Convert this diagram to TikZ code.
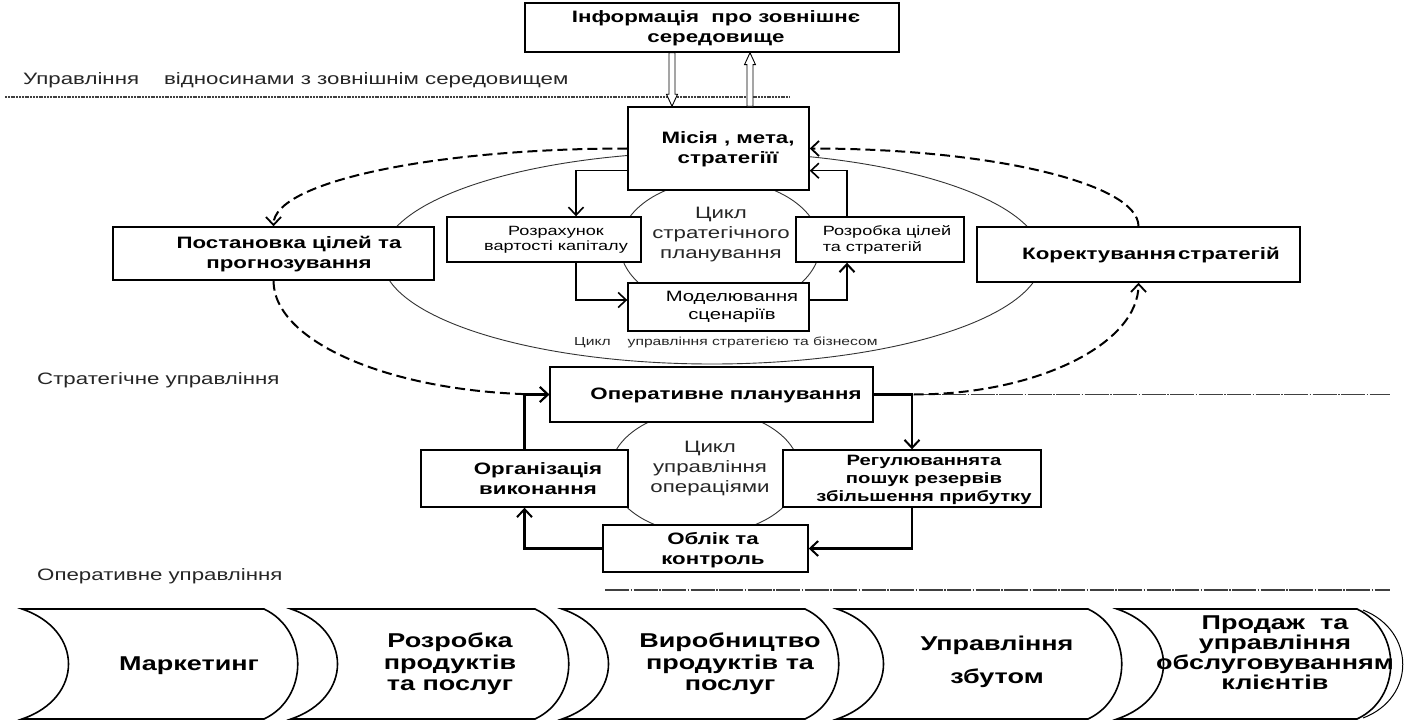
\documentclass[tikz,border=0pt]{standalone}
\usepackage{fontspec}
\setmainfont{Liberation Sans}[FakeStretch=1.35]
\usetikzlibrary{arrows.meta,calc}
\begin{document}
\begin{tikzpicture}[x=1pt,y=-1pt,
  box/.style={draw, line width=1.4pt, fill=white, inner sep=0pt},
  ell/.style={line width=0.9pt, draw=black!80},
  bt/.style={font=\fontsize{16.5}{20}\selectfont\bfseries, align=center, inner sep=0pt},
  rt/.style={font=\fontsize{15}{18}\selectfont\bfseries, align=center, inner sep=0pt},
  st/.style={font=\fontsize{13.4}{15.5}\selectfont, align=center, inner sep=0pt},
  mt/.style={font=\fontsize{15}{18}\selectfont, align=center, inner sep=0pt},
  ct/.style={font=\fontsize{16.5}{20}\selectfont, align=center, inner sep=0pt, text=black!85},
  lab/.style={font=\fontsize{16.5}{20}\selectfont, inner sep=0pt, anchor=west, text=black!85},
  sm/.style={font=\fontsize{11.6}{14}\selectfont, inner sep=0pt, anchor=west, text=black!85},
  cht/.style={font=\fontsize{20}{21.5}\selectfont\bfseries, align=center, inner sep=0pt},
  chtb/.style={font=\fontsize{20}{20}\selectfont\bfseries, align=center, inner sep=0pt},
  arr/.style={line width=1.2pt, -{Straight Barb[length=8pt, width=15pt, line width=1.6pt]}},
  arrthick/.style={line width=2.2pt, -{Straight Barb[length=8pt, width=15pt, line width=2pt]}},
  dasharr/.style={line width=2pt, dash pattern=on 10pt off 5pt, -{Straight Barb[length=8pt, width=15pt, line width=1.8pt]}},
  sepa/.style={line width=1.3pt, dash pattern=on 2pt off 0.8pt, draw=black!75},
  sepb/.style={line width=1.3pt, dash pattern=on 24pt off 1.5pt on 1.5pt off 1.5pt, draw=black!75},
  chev/.style={line width=1.6pt},
  hollowarr/.style={line width=0.9pt, fill=white, to path={let \p1=(\tikztostart), \p2=(\tikztotarget), \n1={ifthenelse(\y2>\y1,1,-1)} in (\x1-3pt,\y1) -- (\x1-3pt,\y2-\n1*12pt) -- (\x1-5.5pt,\y2-\n1*12pt) -- (\x1,\y2) -- (\x1+5.5pt,\y2-\n1*12pt) -- (\x1+3pt,\y2-\n1*12pt) -- (\x1+3pt,\y1) -- cycle}}
]
\useasboundingbox (0,0) rectangle (1415,722);
\fill[white] (0,0) rectangle (1415,722);

% ellipses
\draw[ell] (712,258) ellipse [x radius=330pt, y radius=106pt];
\draw[ell] (720,245) ellipse [x radius=100pt, y radius=65pt];
\draw[ell] (705,472) ellipse [x radius=95pt, y radius=62pt];

% separator (top)
\draw[sepa] (5,97) -- (790,97);

% boxes
\node[box, minimum width=374pt, minimum height=49pt] (info) at (712,27.5) {};
\node[bt] (infoT) at (716,28) {Інформація\ \ про зовнішнє\\середовище};
\node[box, minimum width=181pt, minimum height=83pt] (misia) at (718.5,148.5) {};
\node[bt] (misiaT) at (728,149) {Місія , мета,\\стратегіїї};
\node[box, minimum width=194pt, minimum height=45pt] (rozr) at (544,239.5) {};
\node[st] (rozrT) at (556,240) {Розрахунок\\вартості капіталу};
\node[box, minimum width=168pt, minimum height=45pt] (rozrob) at (880,239.5) {};
\node[st, align=left] (rozrobT) at (887,240) {Розробка цілей\\та стратегій};
\node[box, minimum width=181pt, minimum height=48pt] (model) at (718.5,307) {};
\node[mt] (modelT) at (732,307) {Моделювання\\сценаріїв};
\node[box, minimum width=321pt, minimum height=53pt] (post) at (273.5,253.5) {};
\node[bt] (postT) at (289,254) {Постановка цілей та\\прогнозування};
\node[box, minimum width=323pt, minimum height=55pt] (korek) at (1138.5,254.5) {};
\node[bt] (korekT) at (1151,255) {Коректування\hspace{2pt}стратегій};
\node[box, minimum width=323pt, minimum height=55pt] (oper) at (711.5,394.5) {};
\node[bt] (operT) at (726,395) {Оперативне планування};
\node[box, minimum width=207pt, minimum height=57pt] (org) at (524.5,478.5) {};
\node[bt] (orgT) at (538,479) {Організація\\виконання};
\node[box, minimum width=258pt, minimum height=57pt] (reg) at (912,478.5) {};
\node[rt] (regT) at (924,480) {Регулюваннята\\пошук резервів\\збільшення прибутку};
\node[box, minimum width=205pt, minimum height=47pt] (oblik) at (705.5,548.5) {};
\node[bt] (oblikT) at (713,550) {Облік та\\контроль};

% cycle texts
\node[ct] (c1) at (721,235) {Цикл\\стратегічного\\планування};
\node[ct] (c2) at (710,469) {Цикл\\управління\\операціями};

% section labels
\node[lab] (l1) at (23,80) {Управління\hspace*{25pt}відносинами з зовнішнім середовищем};
\node[lab] (l2) at (37,380) {Стратегічне управління};
\node[lab] (l3) at (37,576) {Оперативне управління};
\node[sm] (l4) at (574,342) {Цикл\hspace*{17pt}управління стратегією та бізнесом};

% hollow arrows
\coordinate (dnx) at (672,0);
\coordinate (upx) at (750,0);
\draw[hollowarr] (info.south -| dnx) to (misia.north -| dnx);
\draw[hollowarr] (misia.north -| upx) to (info.south -| upx);

% strategic cycle arrows
\draw[arr] ($(misia.south west)+(0,-20)$) -| ($(rozr.north)+(32,0)$);
\draw[arr] ($(rozr.south)+(32,0)$) |- ($(model.west)+(0,-7)$);
\draw[arrthick] ($(model.east)+(0,-7)$) -| ($(rozrob.south)+(-33,0)$);
\draw[arr] ($(rozrob.north)+(-33,0)$) |- ($(misia.south east)+(0,-20)$);

% operational separator + arrows
\coordinate (jr) at ($(oper.east)+(40,0)$);
\draw[sepb] (jr) -- (1390,394.5);
\draw[sepb] (605,590) -- (1390,590);
\draw[arrthick] (oper.east) -| (reg.north);
\draw[arrthick] (reg.south) |- (oblik.east);
\draw[arrthick] (oblik.west) -| (org.south);
\draw[arrthick] (org.north) |- (oper.west);

% dashed curves
\draw[dasharr] (misia.west) .. controls +(-195,0) and +(0,-44) .. (post.north);
\draw[dasharr] (post.south) .. controls +(0,63) and +(-152,0) .. (oper.west);
\draw[dasharr] (jr) .. controls +(124,0) and +(0,61) .. (korek.south);
\draw[dasharr] (korek.north) .. controls +(0,-43) and +(181,0) .. (misia.east);

% chevrons
\foreach \a/\b in {22/264, 291/535, 562/805, 837/1088, 1117/1357} {
  \draw[chev] (\a,609) -- (\b,609) .. controls (\b+45,630) and (\b+45,698) .. (\b,719) -- (\a,719) .. controls (\a+62,698) and (\a+62,630) .. (\a,609) -- cycle;
}
\draw[line width=1pt] (1363,610) .. controls (1416,631) and (1416,698) .. (1363,718);

\node[cht] (ch1) at (189,666) {Маркетинг};
\node[cht] (ch2) at (450,664) {Розробка\\продуктів\\та послуг};
\node[cht] (ch3) at (730,664) {Виробництво\\продуктів та\\послуг};
\node[cht] (ch4) at (997,662) {Управління\\[12pt]збутом};
\node[chtb] (ch5) at (1275,653) {Продаж\ \ та\\управління\\обслуговуванням\\клієнтів};
\end{tikzpicture}
\end{document}
